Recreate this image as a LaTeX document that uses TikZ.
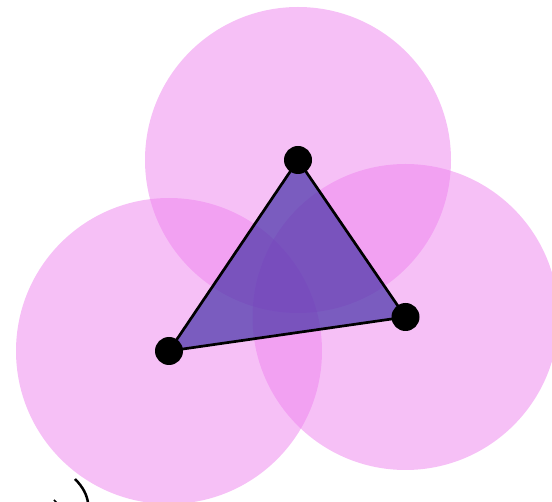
\documentclass[tikz,border=0pt]{standalone}
\usetikzlibrary{calc}
\definecolor{disk}{RGB}{238,130,238}
\definecolor{tri}{RGB}{70,50,168}
\tikzset{
  disk/.style={fill=disk, fill opacity=0.5, draw=none},
  dotnode/.style={circle, fill=black, inner sep=0pt, minimum size=28pt},
  edge/.style={draw=black, line width=2.7pt, line join=round},
}
\begin{document}
\begin{tikzpicture}[x=1pt,y=-1pt]
\useasboundingbox (0,0) rectangle (552,502);
\coordinate (A) at (298,160);
\coordinate (B) at (169,351);
\coordinate (C) at (405.5,317);
\begin{scope}
\clip (0,0) rectangle (552,502);
\fill[disk] (A) circle[radius=153];
\fill[disk] (B) circle[radius=153];
\fill[disk] (C) circle[radius=153];
\end{scope}
\path[fill=tri, fill opacity=0.7] (A) -- (B) -- (C) -- cycle;
\path[edge] (A) -- (B) -- (C) -- cycle;
\node[dotnode] (a) at (A) {};
\node[dotnode] (b) at (B) {};
\node[dotnode] (c) at (C) {};
\coordinate (m1) at (75,479);
\coordinate (m2) at (88,503);
\draw[line width=2.5pt] (m1) .. controls (83,487) and (87,495) .. (m2);
\coordinate (n1) at (54,500);
\coordinate (n2) at (57,503);
\draw[line width=1.5pt] (n1) -- (n2);
\end{tikzpicture}
\end{document}
